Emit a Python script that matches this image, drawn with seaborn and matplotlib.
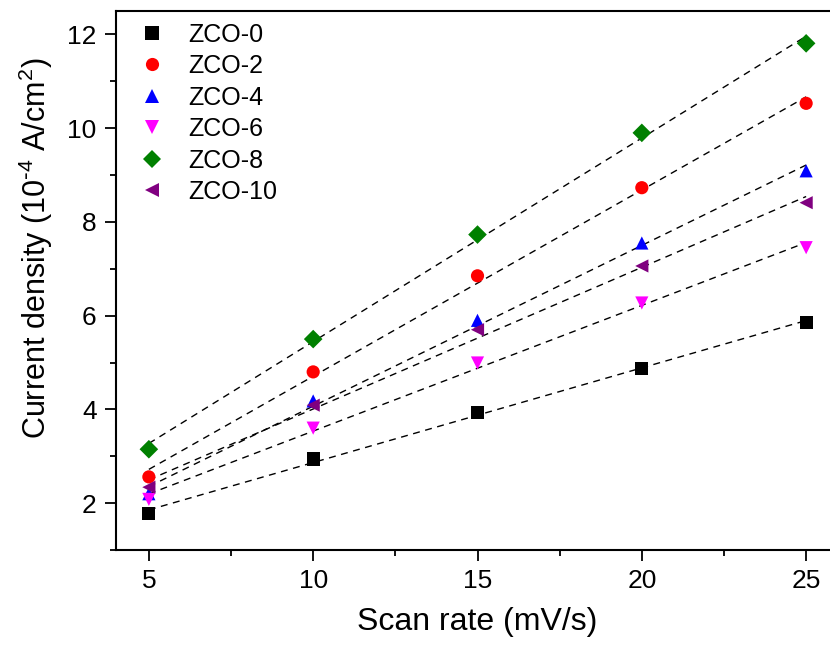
import numpy as np
import pandas as pd
import matplotlib
matplotlib.use("Agg")
import matplotlib.pyplot as plt
import seaborn as sns
from matplotlib.ticker import MultipleLocator

scan_rate = [5, 10, 15, 20, 25]
samples = ["ZCO-0", "ZCO-2", "ZCO-4", "ZCO-6", "ZCO-8", "ZCO-10"]
zco0 = [1.77, 2.94, 3.94, 4.88, 5.85]
zco2 = [2.56, 4.80, 6.85, 8.73, 10.53]
zco4 = [2.20, 4.18, 5.90, 7.55, 9.09]
zco6 = [2.08, 3.60, 4.99, 6.27, 7.45]
zco8 = [3.15, 5.50, 7.73, 9.90, 11.81]
zco10 = [2.34, 4.09, 5.70, 7.06, 8.41]
values = [zco0, zco2, zco4, zco6, zco8, zco10]
colors = ["#000000", "#ff0000", "#0000ff", "#ff00ff", "#008000", "#800080"]
markers = ["s", "o", "^", "v", "D", "<"]

rows = []
for name, vals in zip(samples, values):
    for x, y in zip(scan_rate, vals):
        rows.append({"Scan rate": x, "Current": y, "Sample": name})
df = pd.DataFrame(rows)

sns.set_style("ticks")
plt.rcParams["font.family"] = ["Liberation Sans", "DejaVu Sans"]
plt.rcParams["mathtext.default"] = "regular"
plt.rcParams["text.color"] = "black"
plt.rcParams["axes.labelcolor"] = "black"

fig = plt.figure(figsize=(8.3, 6.47), dpi=100)
ax = fig.add_axes([116 / 830, 97 / 647, 723 / 830, 539 / 647])

# linear fits (dashed)
xs = np.array(scan_rate, dtype=float)
for vals in values:
    k, b = np.polyfit(xs, np.array(vals), 1)
    ax.plot([xs[0], xs[-1]], [k * xs[0] + b, k * xs[-1] + b],
            color="black", lw=1.0, ls=(0, (5, 4)), zorder=1)

sns.scatterplot(data=df, x="Scan rate", y="Current", hue="Sample", style="Sample",
                hue_order=samples, style_order=samples,
                palette=dict(zip(samples, colors)), markers=dict(zip(samples, markers)),
                s=90, edgecolor="none", linewidth=0, ax=ax, zorder=3)

ax.set_xlim(4, 26)
ax.set_ylim(1, 12.5)
ax.xaxis.set_major_locator(MultipleLocator(5))
ax.xaxis.set_minor_locator(MultipleLocator(2.5))
ax.yaxis.set_major_locator(MultipleLocator(2))
ax.yaxis.set_minor_locator(MultipleLocator(1))
ax.tick_params(which="major", direction="out", length=8, width=1.3, labelsize=19,
               colors="black", pad=6)
ax.tick_params(which="minor", direction="out", length=4, width=1.3, colors="black")
for s in ax.spines.values():
    s.set_linewidth(1.5)
    s.set_color("black")

ax.set_xlabel("Scan rate (mV/s)", fontsize=23, labelpad=10)
ax.set_ylabel(r"Current density (10$^{\text{-}4}$ A/cm$^{2}$)", fontsize=22)
ax.yaxis.set_label_coords(-0.084, 0.56)

leg = ax.legend(loc="upper left", frameon=False, fontsize=18,
                handletextpad=0.45, labelspacing=0.3, borderaxespad=0.0,
                bbox_to_anchor=(0.002, 0.997))
for h in leg.legend_handles:
    if hasattr(h, "set_sizes"):
        h.set_sizes([90])

fig.savefig("out.png", dpi=100)
